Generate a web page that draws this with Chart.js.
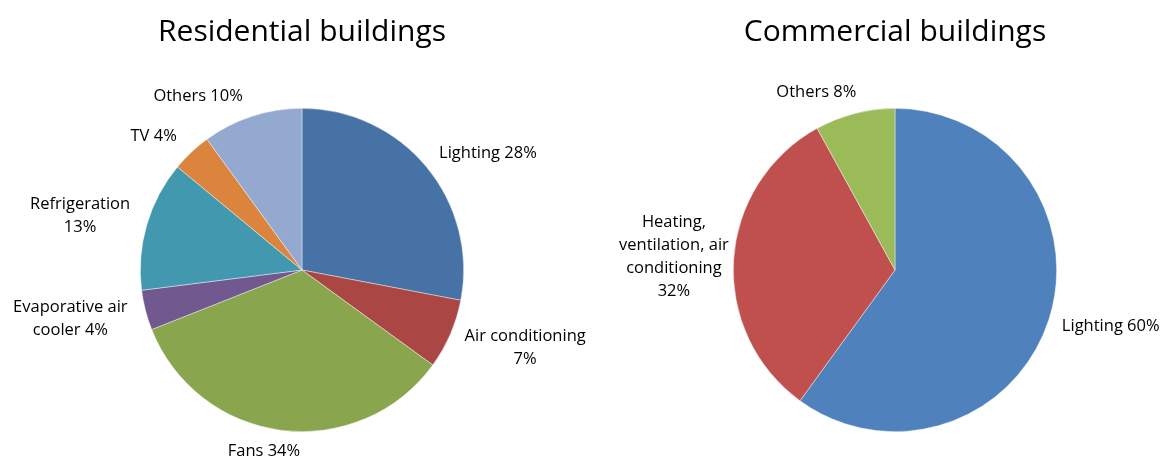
<!DOCTYPE html>
<html>
<head>
<meta charset="utf-8">
<title>Electricity use in buildings</title>
<script src="https://cdn.jsdelivr.net/npm/chart.js@4.4.0/dist/chart.umd.min.js"></script>
<style>
    body { margin: 0; background: #fff; overflow: hidden; }
    .box { position: absolute; top: 0; height: 459px; }
</style>
</head>
<body>
<div class="box" style="left:0; width:604px"><canvas id="resChart"></canvas></div>
<div class="box" style="left:580px; width:584px"><canvas id="comChart"></canvas></div>
<script>
const resCategories = ['Lighting', 'Air conditioning', 'Fans', 'Evaporative air cooler', 'Refrigeration', 'TV', 'Others'];
const resValues = [28, 7, 34, 4, 13, 4, 10];
const resColors = ['#4672A6', '#AA4744', '#89A54E', '#71588F', '#4298AF', '#DB843D', '#93A9CF'];

const comCategories = ['Lighting', 'Heating, ventilation, air conditioning', 'Others'];
const comValues = [60, 32, 8];
const comColors = ['#4F81BD', '#C0504D', '#9BBB59'];

const FONT = '"Open Sans", Lato, sans-serif';

function wrapText(ctx, text, maxWidth) {
    // simple word wrap, like the office chart labels
    const words = text.split(' ');
    const lines = [];
    let line = '';
    words.forEach(word => {
        const test = line ? line + ' ' + word : word;
        if (line && ctx.measureText(test).width > maxWidth) {
            lines.push(line);
            line = word;
        } else {
            line = test;
        }
    });
    lines.push(line);
    return lines;
}

// draws "Name NN%" just outside each slice
const outsideLabels = {
    id: 'outsideLabels',
    afterDatasetsDraw(chart, args, opts) {
        const ctx = chart.ctx;
        const meta = chart.getDatasetMeta(0);
        const data = chart.data.datasets[0].data;
        const nudge = opts.nudge || {};
        ctx.save();
        ctx.font = opts.fontSize + 'px ' + FONT;
        ctx.fillStyle = '#000';
        ctx.textAlign = 'center';
        ctx.textBaseline = 'middle';
        meta.data.forEach((arc, i) => {
            const mid = (arc.startAngle + arc.endAngle) / 2;
            const r = arc.outerRadius + opts.gap;
            const lines = wrapText(ctx, chart.data.labels[i] + ' ' + data[i] + '%', opts.maxWidth);
            const w = Math.max(...lines.map(l => ctx.measureText(l).width));
            const h = lines.length * opts.lineHeight;
            const cx = arc.x + Math.cos(mid) * (r + w / 2) + (nudge[i] || 0);
            const cy = arc.y + Math.sin(mid) * r + Math.sin(mid) * h / 2;
            lines.forEach((l, k) => {
                ctx.fillText(l, cx, cy - h / 2 + opts.lineHeight * (k + 0.5));
            });
        });
        ctx.restore();
    }
};

function makePie(id, title, labels, values, colors, padLeft, nudge) {
    const ctx = document.getElementById(id).getContext('2d');
    return new Chart(ctx, {
        type: 'pie',
        data: {
            labels: labels,
            datasets: [{
                data: values,
                backgroundColor: colors,
                borderColor: 'rgba(255,255,255,0.6)',
                borderWidth: 0.7
            }]
        },
        options: {
            responsive: true,
            maintainAspectRatio: false,
            animation: false,
            layout: { padding: { top: 0, bottom: 27, left: padLeft, right: 0 } },
            plugins: {
                legend: { display: false },
                tooltip: { enabled: false },
                title: {
                    display: true,
                    text: title,
                    color: '#000',
                    font: { family: FONT, size: 30, weight: 'normal', lineHeight: 1.2 },
                    padding: { top: 14, bottom: 58 }
                },
                outsideLabels: { gap: 10, maxWidth: 122, lineHeight: 23, fontSize: 16.5, nudge: nudge }
            }
        },
        plugins: [outsideLabels]
    });
}

makePie('resChart', 'Residential buildings', resCategories, resValues, resColors, 0,
    { 0: 16, 1: 10, 2: -12, 3: -10, 4: -9, 5: -15, 6: -37 });
makePie('comChart', 'Commercial buildings', comCategories, comValues, comColors, 46,
    { 0: 6, 1: 5, 2: -26 });
</script>
</body>
</html>
